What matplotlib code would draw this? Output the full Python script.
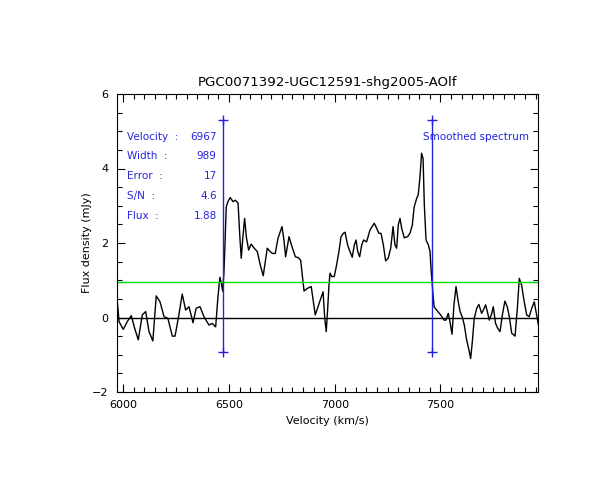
import numpy as np
import matplotlib
matplotlib.use('Agg')
import matplotlib.pyplot as plt
from matplotlib.ticker import MultipleLocator

# spectrum
velocity = [5969, 5980, 6000, 6019, 6038, 6054, 6071, 6090, 6106, 6122, 6140, 6156, 6174, 6193,
            6211, 6232, 6245, 6263, 6279, 6295, 6311, 6330, 6345, 6363, 6382, 6405, 6421, 6437,
            6448, 6457, 6464, 6470, 6476, 6480, 6487, 6495, 6506, 6519, 6530, 6543, 6551, 6558,
            6566, 6574, 6582, 6593, 6605, 6618, 6634, 6648, 6662, 6672, 6681, 6695, 6705, 6719,
            6732, 6751, 6760, 6768, 6784, 6798, 6814, 6826, 6839, 6855, 6870, 6889, 6908, 6929,
            6945, 6953, 6960, 6967, 6973, 6978, 6986, 6998, 7009, 7020, 7030, 7041, 7049, 7061,
            7072, 7083, 7093, 7101, 7109, 7118, 7128, 7137, 7151, 7167, 7187, 7199, 7209, 7219,
            7230, 7241, 7253, 7265, 7276, 7285, 7293, 7301, 7309, 7317, 7329, 7345, 7356, 7367,
            7376, 7388, 7395, 7403, 7411, 7418, 7424, 7432, 7443, 7451, 7455, 7459, 7465, 7470,
            7482, 7501, 7517, 7526, 7537, 7545, 7555, 7564, 7574, 7583, 7593, 7603, 7613, 7624,
            7635, 7643, 7651, 7660, 7672, 7682, 7695, 7703, 7714, 7724, 7731, 7743, 7750, 7761,
            7771, 7782, 7793, 7805, 7816, 7826, 7837, 7853, 7864, 7873, 7884, 7895, 7908, 7920,
            7932, 7944, 7952, 7958, 7965]
flux = [0.62, -0.11, -0.32, -0.11, 0.05, -0.29, -0.60, 0.07, 0.16, -0.38, -0.63, 0.58, 0.42, 0.02,
        -0.02, -0.50, -0.50, 0.07, 0.63, 0.20, 0.29, -0.14, 0.25, 0.29, 0.02, -0.20, -0.16, -0.25,
        0.56, 1.08, 0.92, 0.71, 1.19, 1.77, 2.97, 3.11, 3.22, 3.11, 3.15, 3.07, 2.21, 1.59,
        2.17, 2.66, 2.17, 1.81, 1.97, 1.87, 1.77, 1.41, 1.12, 1.50, 1.86, 1.77, 1.72, 1.72,
        2.13, 2.44, 2.08, 1.63, 2.17, 1.90, 1.63, 1.61, 1.54, 0.71, 0.78, 0.83, 0.07, 0.42,
        0.69, -0.02, -0.38, 0.25, 0.87, 1.19, 1.10, 1.10, 1.41, 1.77, 2.17, 2.26, 2.29, 1.95,
        1.77, 1.62, 1.95, 2.08, 1.77, 1.63, 1.95, 2.08, 2.03, 2.35, 2.53, 2.39, 2.26, 2.26,
        1.95, 1.52, 1.59, 1.86, 2.44, 1.95, 1.86, 2.50, 2.66, 2.39, 2.14, 2.17, 2.26, 2.48,
        2.97, 3.20, 3.29, 3.74, 4.41, 4.27, 3.02, 2.08, 1.95, 1.77, 1.36, 1.05, 0.62, 0.29,
        0.20, 0.07, -0.07, -0.07, 0.11, -0.11, -0.45, 0.34, 0.83, 0.47, 0.16, 0.02, -0.20, -0.60,
        -0.87, -1.10, -0.65, -0.02, 0.25, 0.35, 0.11, 0.20, 0.34, 0.11, -0.07, 0.11, 0.29, -0.16,
        -0.29, -0.38, 0.07, 0.44, 0.29, 0.02, -0.42, -0.50, 0.25, 1.05, 0.87, 0.47, 0.07, 0.02,
        0.25, 0.42, 0.16, -0.02, -0.25]

vel_c = 6967
width = 989
error = 17
snr = 4.6
flux_int = 1.88
level = 0.95          # green line
edge_top = 5.30
edge_bot = -0.92

labels = ['Velocity  :', 'Width  :', 'Error  :', 'S/N  :', 'Flux  :']
values = ['%d' % vel_c, '%d' % width, '%d' % error, '%.1f' % snr, '%.2f' % flux_int]

blue = '#2424e0'

fig = plt.figure(figsize=(6.12, 5.0), dpi=100)
ax = fig.add_axes([116.7 / 612, 1 - 392 / 500, 421.6 / 612, 298 / 500])

ax.plot(velocity, flux, color='black', lw=1.0)
ax.axhline(0, color='black', lw=1.0)
ax.axhline(level, color='#00e000', lw=1.0)

for v in [vel_c - width / 2, vel_c + width / 2]:
    ax.plot([v, v], [edge_bot, edge_top], color=blue, lw=1.0)
    ax.plot([v, v], [edge_bot, edge_top], '+', color=blue, ms=6.5, mew=1.0)

ax.set_xlim(5969, 7963)
ax.set_ylim(-2, 6)
ax.xaxis.set_major_locator(MultipleLocator(500))
ax.xaxis.set_minor_locator(MultipleLocator(50))
ax.yaxis.set_major_locator(MultipleLocator(2))
ax.yaxis.set_minor_locator(MultipleLocator(0.5))
ax.tick_params(which='both', direction='in', top=True, right=True, labelsize=8, width=0.8)
ax.tick_params(which='major', length=6, pad=6)
ax.tick_params(which='minor', length=3.5)
for s in ax.spines.values():
    s.set_linewidth(0.8)

ax.set_title('PGC0071392-UGC12591-shg2005-AOlf', fontsize=9.6, pad=6)
ax.set_xlabel('Velocity (km/s)', fontsize=8)
ax.set_ylabel('Flux density (mJy)', fontsize=8, labelpad=0)

for i in range(len(labels)):
    y = 0.857 - i * 0.0664
    ax.text(0.0244, y, labels[i], transform=ax.transAxes, color=blue, fontsize=7.5, va='center')
    ax.text(0.237, y, values[i], transform=ax.transAxes, color=blue, fontsize=7.5, va='center', ha='right')
ax.text(0.726, 0.857, 'Smoothed spectrum', transform=ax.transAxes, color=blue, fontsize=7.5, va='center')

fig.savefig('out.png', dpi=100)
